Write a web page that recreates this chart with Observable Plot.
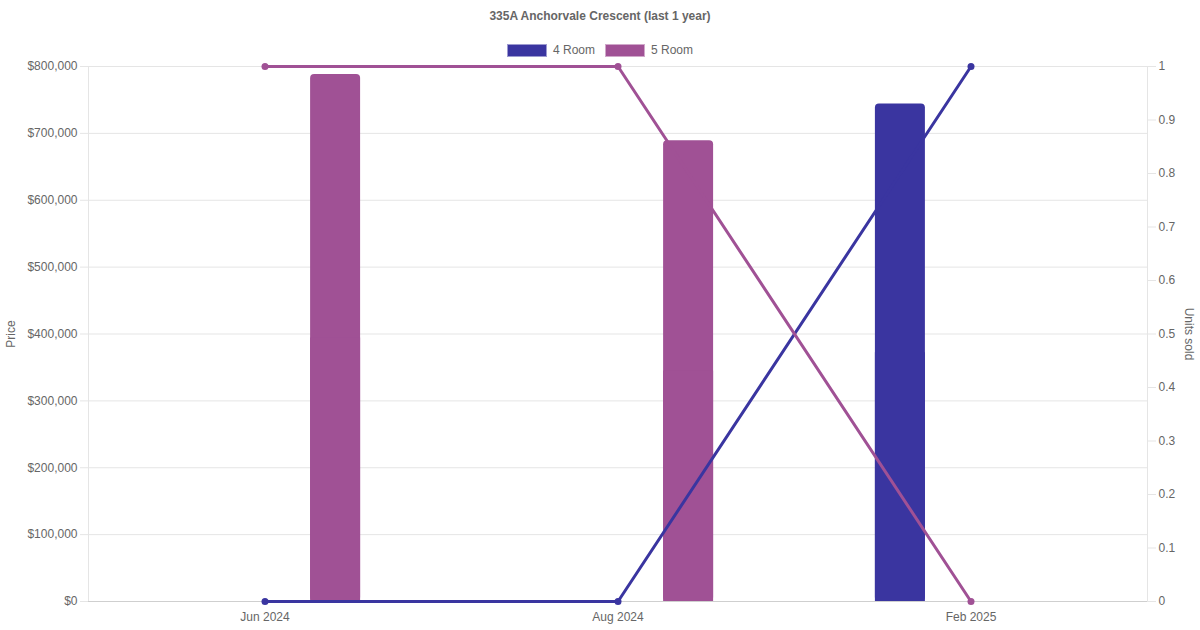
<!DOCTYPE html>
<html>
<head>
<meta charset="utf-8">
<script src="https://cdn.jsdelivr.net/npm/d3@7"></script>
<script src="https://cdn.jsdelivr.net/npm/@observablehq/plot@0.6"></script>
<style>
  html, body { margin: 0; padding: 0; background: #fff; }
  body { width: 1200px; height: 630px; overflow: hidden; font-family: "Liberation Sans", Arial, Helvetica, sans-serif; color: #666; }
  #header { height: 60px; position: relative; }
  #title { position: absolute; top: 9px; left: 0; width: 1200px; text-align: center; font-weight: bold; font-size: 12px; color: #666; }
  #legend { position: absolute; top: 43px; left: 0; width: 1200px; display: flex; justify-content: center; gap: 10px; font-size: 12px; color: #666; }
  .item { display: flex; align-items: center; }
  .sw { width: 38px; height: 11px; margin-right: 6px; border: 1px solid rgba(255,255,255,0.5); box-sizing: content-box; }
</style>
</head>
<body>
<div id="header">
  <div id="title">335A Anchorvale Crescent (last 1 year)</div>
  <div id="legend"></div>
</div>
<div id="chart"></div>
<script>
const months = ["Jun 2024", "Aug 2024", "Feb 2025"];
const rooms = ["4 Room", "5 Room"];
const colors = ["#3a35a0", "#a05195"];
const price4 = [null, null, 744000];
const price5 = [788000, 689000, null];
const units4 = [0, 0, 1];
const units5 = [1, 1, 0];
const priceTicks = [0, 100000, 200000, 300000, 400000, 500000, 600000, 700000, 800000];
const unitTicks = [0, 0.1, 0.2, 0.3, 0.4, 0.5, 0.6, 0.7, 0.8, 0.9, 1];

const W = 1200, H = 570, mL = 88, mR = 53, mT = 6, mB = 29;
const priceMax = 800000, unitsMax = 1;
const k = priceMax / unitsMax;
const bandW = (W - mL - mR) / months.length;
const barW = 50;
const inset = (bandW - barW) / 2;
const off = bandW * 0.8 / 4;

const bars = [];
const pts = [];
months.forEach((m, i) => {
  if (price4[i] != null) bars.push({month: m, room: rooms[0], price: price4[i]});
  if (price5[i] != null) bars.push({month: m, room: rooms[1], price: price5[i]});
  pts.push({month: m, room: rooms[0], units: units4[i]});
  pts.push({month: m, room: rooms[1], units: units5[i]});
});
const bars4 = bars.filter(d => d.room === rooms[0]);
const bars5 = bars.filter(d => d.room === rooms[1]);

const fmtPrice = d3.format("$,.0f");
const gridColor = "#e5e5e5";

const barOpts = (dx) => ({
  x: "month", y: "price", fill: "room", dx, insetLeft: inset, insetRight: inset
});

const chart = Plot.plot({
  width: W, height: H,
  marginLeft: mL, marginRight: mR, marginTop: mT, marginBottom: mB,
  style: {fontFamily: '"Liberation Sans", Arial, sans-serif', fontSize: "12px", color: "#666", background: "#fff"},
  x: {type: "band", domain: months, padding: 0},
  y: {domain: [0, priceMax]},
  color: {domain: rooms, range: colors},
  marks: [
    Plot.ruleY(priceTicks, {y: d => d, stroke: gridColor, strokeWidth: 1}),
    Plot.frame({anchor: "left", stroke: gridColor}),
    Plot.frame({anchor: "right", stroke: gridColor}),
    Plot.barY(bars4, {...barOpts(-off), rx: 4}),
    Plot.barY(bars4, {...barOpts(-off), y: d => d.price / 2}),
    Plot.barY(bars5, {...barOpts(off), rx: 4}),
    Plot.barY(bars5, {...barOpts(off), y: d => d.price / 2}),
    Plot.ruleY([0], {stroke: "#cfcfcf", strokeWidth: 1}),
    Plot.line(pts, {x: "month", y: d => d.units * k, z: "room", stroke: "room", strokeWidth: 3}),
    Plot.dot(pts, {x: "month", y: d => d.units * k, fill: "room", r: 3.5}),
    Plot.axisY(priceTicks, {anchor: "left", tickSize: 8, tickPadding: 3, stroke: gridColor, fill: "#666", tickFormat: fmtPrice, label: null}),
    Plot.axisY(unitTicks.map(t => t * k), {anchor: "right", tickSize: 8, tickPadding: 3, stroke: gridColor, fill: "#666", tickFormat: d => String(+(d / k).toFixed(1)), label: null}),
    Plot.axisX({tickSize: 0, tickPadding: 11, fill: "#666", label: null}),
    Plot.text(["Price"], {frameAnchor: "left", textAnchor: "middle", dx: -77, rotate: -90, fill: "#666", fontSize: 12}),
    Plot.text(["Units sold"], {frameAnchor: "right", textAnchor: "middle", dx: 41, rotate: 90, fill: "#666", fontSize: 12})
  ]
});
document.getElementById("chart").appendChild(chart);

const legend = document.getElementById("legend");
rooms.forEach((r, i) => {
  const it = document.createElement("div");
  it.className = "item";
  const sw = document.createElement("span");
  sw.className = "sw";
  sw.style.background = colors[i];
  const tx = document.createElement("span");
  tx.textContent = r;
  it.appendChild(sw); it.appendChild(tx);
  legend.appendChild(it);
});
</script>
</body>
</html>
